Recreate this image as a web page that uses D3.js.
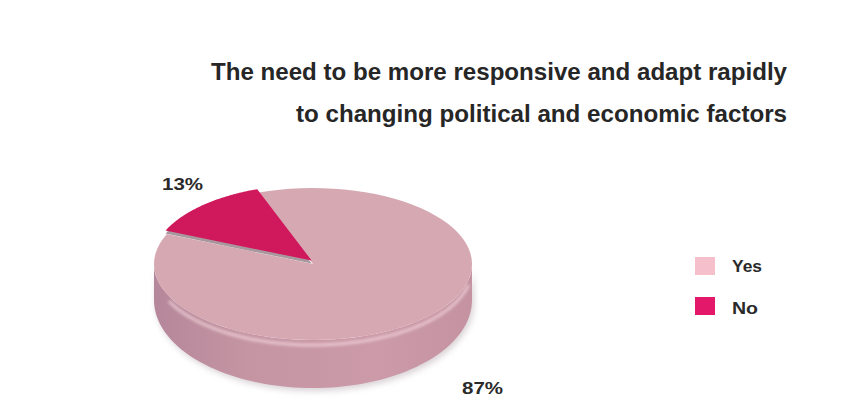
<!DOCTYPE html>
<html>
<head>
<meta charset="utf-8">
<script src="https://cdn.jsdelivr.net/npm/d3@7"></script>
<style>
  html, body { margin: 0; padding: 0; background: #fff; }
  svg { display: block; font-family: "Liberation Sans", Arial, sans-serif; }
</style>
</head>
<body>
<div id="chart"></div>
<script>
// data
const categories = ["Yes", "No"];
const values = [87, 13];
const valueLabels = ["87%", "13%"];
const titleLines = [
  "The need to be more responsive and adapt rapidly",
  "to changing political and economic factors"
];

const W = 858, H = 399;
// top face ellipse and (flatter-looking) bottom outline
const cx = 313, cy = 264, rx = 159, ry = 76;
const cyB = 300, ryB = 88;
const deg = Math.PI / 180;

const topColors = ["#d6a8b2", "#d0195d"];
const legendColors = ["#f5c0cc", "#e3186b"];

const svg = d3.select("#chart").append("svg")
    .attr("width", W)
    .attr("height", H);

const defs = svg.append("defs");
var wallGrad = defs.append("linearGradient")
    .attr("id", "wall")
    .attr("x1", 0).attr("x2", 1).attr("y1", 0).attr("y2", 0);
wallGrad.append("stop").attr("offset", "0%").attr("stop-color", "#b5879a");
wallGrad.append("stop").attr("offset", "30%").attr("stop-color", "#c595a3");
wallGrad.append("stop").attr("offset", "70%").attr("stop-color", "#cc9aa8");
wallGrad.append("stop").attr("offset", "100%").attr("stop-color", "#c492a0");

var soft = defs.append("filter").attr("id", "soft")
    .attr("x", "-10%").attr("y", "-10%").attr("width", "120%").attr("height", "130%");
soft.append("feGaussianBlur").attr("stdDeviation", 3);
var glow = defs.append("filter").attr("id", "glow")
    .attr("x", "-10%").attr("y", "-50%").attr("width", "120%").attr("height", "200%");
glow.append("feGaussianBlur").attr("stdDeviation", 1.5);

// title
svg.selectAll("text.title")
  .data(titleLines)
  .enter().append("text")
    .attr("class", "title")
    .attr("x", 787)
    .attr("y", (d, i) => 80 + i * 42)
    .attr("text-anchor", "end")
    .attr("font-size", 23)
    .attr("font-weight", "bold")
    .attr("fill", "#262626")
    .attr("textLength", (d, i) => [576, 491][i])
    .attr("lengthAdjust", "spacingAndGlyphs")
    .text(d => d);

// pie layout
const pie = d3.pie()
    .sort(null)
    .startAngle(-20 * deg)
    .endAngle(340 * deg);
const arcs = pie(values);

function pt(a, ox, oy) {
  return [cx + ox + rx * Math.sin(a), cy + oy - ry * Math.cos(a)];
}
function ptB(a) {
  return [cx + rx * Math.sin(a), cyB - ryB * Math.cos(a)];
}

function topPath(d, ox, oy) {
  var p = d3.path();
  p.moveTo(cx + ox, cy + oy);
  var steps = 80;
  for (var i = 0; i <= steps; i++) {
    var a = d.startAngle + (d.endAngle - d.startAngle) * i / steps;
    var q = pt(a, ox, oy);
    p.lineTo(q[0], q[1]);
  }
  p.closePath();
  return p.toString();
}

function frontRange(d) {
  return [Math.max(d.startAngle, 90 * deg), Math.min(d.endAngle, 270 * deg)];
}

function wallPath(d) {
  var r = frontRange(d), a0 = r[0], a1 = r[1];
  if (a1 <= a0) return null;
  var p = d3.path(), steps = 80, i, a, q;
  for (i = 0; i <= steps; i++) {
    a = a0 + (a1 - a0) * i / steps;
    q = pt(a, 0, 0);
    if (i === 0) p.moveTo(q[0], q[1]); else p.lineTo(q[0], q[1]);
  }
  for (i = steps; i >= 0; i--) {
    a = a0 + (a1 - a0) * i / steps;
    q = ptB(a);
    p.lineTo(q[0], q[1]);
  }
  p.closePath();
  return p.toString();
}

// highlight line running just below the top edge of the wall
function rimLine(d) {
  var r = frontRange(d), a0 = r[0] + 12 * deg, a1 = r[1] - 25 * deg;
  if (a1 <= a0) return null;
  var p = d3.path(), steps = 60;
  for (var i = 0; i <= steps; i++) {
    var a = a0 + (a1 - a0) * i / steps;
    var q = pt(a, 0, 5);
    if (i === 0) p.moveTo(q[0], q[1]); else p.lineTo(q[0], q[1]);
  }
  return p.toString();
}

const pieG = svg.append("g");

// soft shadow under the disc
pieG.append("path")
    .attr("d", wallPath(arcs[0]))
    .attr("transform", "translate(2,3)")
    .attr("fill", "#d9d2d6")
    .attr("filter", "url(#soft)");

// walls
pieG.selectAll("path.wall")
  .data(arcs)
  .enter().append("path")
    .attr("class", "wall")
    .attr("d", wallPath)
    .attr("fill", "url(#wall)");
pieG.selectAll("path.rim")
  .data(arcs)
  .enter().append("path")
    .attr("class", "rim")
    .attr("d", rimLine)
    .attr("fill", "none")
    .attr("stroke", "#f3d6dc")
    .attr("stroke-opacity", 0.75)
    .attr("stroke-width", 3)
    .attr("filter", "url(#glow)");

// No slice slightly lifted
function offset(d, i) {
  if (i === 0) return [0, 0];
  var mid = (d.startAngle + d.endAngle) / 2;
  return [2 * Math.sin(mid), -2 * Math.cos(mid) - 2];
}

// top faces
arcs.forEach(function(d, i) {
  var o = offset(d, i);
  if (i === 1) {
    pieG.append("path")
        .attr("d", topPath(d, o[0], o[1] + 3))
        .attr("fill", "#a8989e");
  }
  pieG.append("path")
      .attr("d", topPath(d, o[0], o[1]))
      .attr("fill", topColors[i]);
});

// value labels
const labelPos = [[462, 394, "start", 41], [162, 190, "start", 41]];
svg.selectAll("text.val")
  .data(valueLabels)
  .enter().append("text")
    .attr("class", "val")
    .attr("x", (d, i) => labelPos[i][0])
    .attr("y", (d, i) => labelPos[i][1])
    .attr("text-anchor", (d, i) => labelPos[i][2])
    .attr("textLength", (d, i) => labelPos[i][3])
    .attr("lengthAdjust", "spacingAndGlyphs")
    .attr("font-size", 16)
    .attr("font-weight", "bold")
    .attr("fill", "#2a2a2a")
    .text(d => d);

// legend
const legend = svg.append("g")
    .attr("transform", "translate(695,257)");
const item = legend.selectAll("g")
  .data(categories)
  .enter().append("g")
    .attr("transform", (d, i) => "translate(0," + i * 40 + ")");
item.append("rect")
    .attr("width", 20)
    .attr("height", 18)
    .attr("fill", (d, i) => legendColors[i]);
item.append("text")
    .attr("x", 37)
    .attr("y", (d, i) => 15 + i * 2)
    .attr("font-size", 16)
    .attr("font-weight", "bold")
    .attr("fill", "#2a2a2a")
    .attr("textLength", (d, i) => [30, 26][i])
    .attr("lengthAdjust", "spacingAndGlyphs")
    .text(d => d);
</script>
</body>
</html>
